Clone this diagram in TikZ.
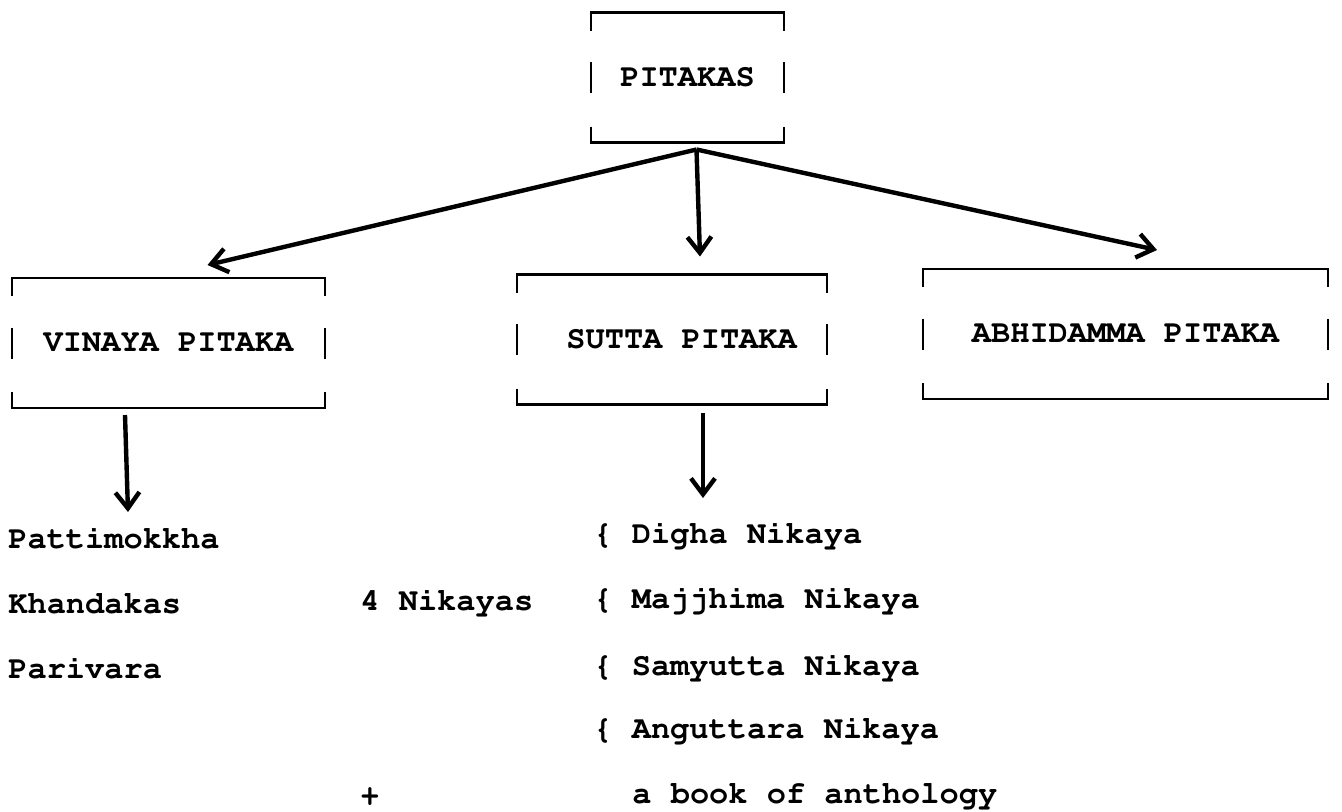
\documentclass[tikz,border=0pt]{standalone}
\usepackage[T1]{fontenc}
\usepackage{courier}
\usetikzlibrary{arrows.meta}

\newcommand{\headfont}{\fontsize{16}{19}\ttfamily\bfseries}
% typed-box frame round a heading node
\newcommand{\bracketbox}[1]{%
  \draw[frame] ([yshift=-9pt]#1.north west) |- (#1.north east) -- ++(0,-9pt);
  \draw[frame] ([yshift=8pt]#1.south west) |- (#1.south east) -- ++(0,8pt);
  \draw[frame] ([yshift=7.75pt]#1.west) -- ([yshift=-7.75pt]#1.west);
  \draw[frame] ([yshift=7.75pt]#1.east) -- ([yshift=-7.75pt]#1.east);}

\tikzset{
  head/.style={font=\headfont, inner sep=0pt, outer sep=0pt, minimum height=65pt},
  item/.style={font=\headfont, inner sep=0pt, anchor=base west},
  frame/.style={line width=1.2pt},
  arr/.style={line width=2.2pt, -{Straight Barb[length=8pt,width=12pt]}}
}

\begin{document}
\begin{tikzpicture}[x=0.5pt,y=-0.5pt]
  \useasboundingbox (0,0) rectangle (1342,811);

  \node[head, minimum width=96.5pt] (pit) at (687.5,77.5) {PITAKAS};
  \node[head, minimum width=156.5pt] (vin) at (168.5,343) {VINAYA PITAKA};
  \node[head, minimum width=155pt] (sut) at (672,339.5) {\hspace*{0.6em}SUTTA PITAKA};
  \node[head, minimum width=202.5pt] (abh) at (1125.5,334) {ABHIDAMMA PITAKA};
  \bracketbox{pit}
  \bracketbox{vin}
  \bracketbox{sut}
  \bracketbox{abh}

  \coordinate (fork) at ([xshift=4.5pt,yshift=-3.5pt]pit.south);
  \draw[arr] (fork) -- ([xshift=19.5pt,yshift=6.5pt]vin.north);
  \draw[arr] (fork) -- ([xshift=14pt,yshift=9pt]sut.north);
  \draw[arr] (fork) -- ([xshift=15.75pt,yshift=9.5pt]abh.north);

  % vinaya side
  \node[item] (patti) at (8,548) {Pattimokkha};
  \node[item] (khanda) at (8,613) {Khandakas};
  \node[item] (pari) at (8,678) {Parivara};
  \coordinate (vinend) at (128,512);
  \draw[arr] ([xshift=-21.75pt,yshift=-3.5pt]vin.south) -- (vinend);

  % sutta side
  \node[item] (nik) at (360,610) {4 Nikayas};
  \node[item] (plus) at (360,805) {+};
  \node[item] (digha) at (593,543) {\{ Digha Nikaya};
  \node[item] (majj) at (593,608) {\{ Majjhima Nikaya};
  \node[item] (samy) at (593,675) {\{ Samyutta Nikaya};
  \node[item] (angu) at (593,738) {\{ Anguttara Nikaya};
  \node[item] (antho) at (632,803) {a book of anthology};
  \coordinate (sutend) at (703,498);
  \draw[arr] ([xshift=15.5pt,yshift=-4pt]sut.south) -- (sutend);
\end{tikzpicture}
\end{document}
